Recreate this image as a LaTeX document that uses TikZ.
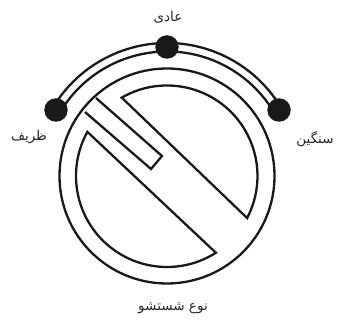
\documentclass[tikz,border=0pt]{standalone}
\usepackage{fontspec}
\newfontfamily\arabicfont[Script=Arabic]{DejaVu Sans}
\TeXXeTstate=1
\tikzset{
  ink/.style={draw=black!90,line width=2.3pt,line join=miter,miter limit=6},
  knob/.style={circle,fill=black!90,draw=none,minimum size=23.5pt,inner sep=0pt},
  lbl/.style={inner sep=0pt,font=\arabicfont\fontsize{13.5}{15}\selectfont,text=black!85}
}
\begin{document}
\begin{tikzpicture}[x=1pt,y=1pt]
\useasboundingbox (-167,-147) rectangle (178,176);
% rim
\draw[ink] (0,0) circle (107.5);
% dial pieces
\draw[ink] (120:90.5) arc (120:-27.7:90.5) -- cycle;
\draw[ink] (151:91) arc (151:302.5:91) -- cycle;
% pointer
\coordinate (hA) at (-82,64);
\coordinate (hB) at (-71,78);
\coordinate (hC) at (-5,20);
\coordinate (hD) at (-16,7);
\draw[ink] (hA) -- (hD) -- (hC) -- (hB);
% scale
\draw[ink] (149.3:133) arc (149.3:30.7:133);
\draw[ink] (149.3:124.5) arc (149.3:30.7:124.5);
\node[knob] (k1) at (-111,66) {};
\node[knob] (k2) at (0,129) {};
\node[knob] (k3) at (112,66) {};
% labels
\node[lbl] (t1) at (1,159) {\beginR عادی\endR};
\node[lbl] (t2) at (-138,39) {\beginR ظریف\endR};
\node[lbl] (t3) at (148,37) {\beginR سنگین\endR};
\node[lbl] (t4) at (6,-132) {\beginR نوع شستشو\endR};
\end{tikzpicture}
\end{document}
